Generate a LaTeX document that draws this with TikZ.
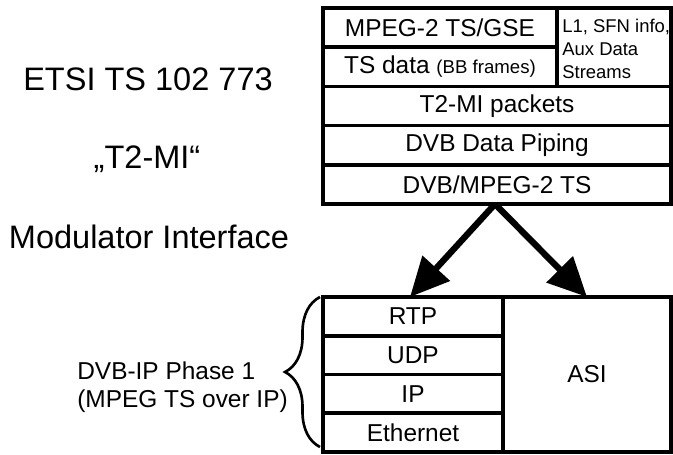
\documentclass[tikz,border=0pt]{standalone}
\usepackage{fontspec}
\setmainfont{Liberation Sans}
\usetikzlibrary{positioning,arrows.meta,decorations.pathreplacing}

\tikzset{
  cell/.style={draw, line width=2.1pt, inner sep=0pt, outer sep=0pt,
    minimum height=0.784cm, font=\fontsize{13.9}{16}\selectfont},
  fatarrow/.style={line width=3.6pt, -{Triangle[length=0.78cm,width=0.72cm]}},
  sidetext/.style={anchor=base, font=\fontsize{18.5}{22}\selectfont},
}

\begin{document}
\begin{tikzpicture}
\useasboundingbox (0,0) rectangle (13.46,9.08);
% Pilha T2-MI
\node[cell, minimum width=4.68cm, anchor=north west] (mpeg) at (6.46,8.92) {MPEG-2 TS/GSE};
\node[cell, minimum width=4.68cm, below=0pt of mpeg] (tsdata) {TS data {\fontsize{10.6}{12}\selectfont(BB frames)}};
\node[cell, minimum width=2.28cm, minimum height=1.568cm, anchor=north west] (l1) at (mpeg.north east) {};
\node[anchor=west, align=left, inner sep=0pt, font=\fontsize{10.5}{13}\selectfont] (l1text) at ([xshift=0.1cm,yshift=-0.04cm]l1.west) {L1, SFN info,\\Aux Data\\Streams};
\node[cell, minimum width=6.96cm, anchor=north west] (t2mi) at (tsdata.south west) {T2-MI packets};
\node[cell, minimum width=6.96cm, below=0pt of t2mi] (piping) {DVB Data Piping};
\node[cell, minimum width=6.96cm, below=0pt of piping] (dvbts) {DVB/MPEG-2 TS};
% Pilha IP / ASI
\node[cell, minimum width=3.6cm, minimum height=0.775cm, anchor=north west] (rtp) at (6.46,3.14) {RTP};
\node[cell, minimum width=3.6cm, minimum height=0.775cm, below=0pt of rtp] (udp) {UDP};
\node[cell, minimum width=3.6cm, minimum height=0.775cm, below=0pt of udp] (ip) {IP};
\node[cell, minimum width=3.6cm, minimum height=0.775cm, below=0pt of ip] (eth) {Ethernet};
\node[cell, minimum width=3.36cm, minimum height=3.1cm, anchor=north west] (asi) at (rtp.north east) {ASI};
% Setas
\draw[fatarrow] ([xshift=-0.04cm]dvbts.south) -- ([xshift=-0.06cm]rtp.north);
\draw[fatarrow] ([xshift=-0.04cm]dvbts.south) -- (asi.north);
% Textos
\node[sidetext] (etsi) at (2.96,7.27) {ETSI TS 102 773};
\node[sidetext] (t2miname) at (2.94,5.71) {„T2-MI“};
\node[sidetext] (modint) at (2.98,4.12) {Modulator Interface};
\node[anchor=west, align=left, inner sep=0pt, font=\fontsize{13.9}{15.9}\selectfont] (dvbip) at (1.54,1.33) {DVB-IP Phase 1\\(MPEG TS over IP)};
% Chave
\draw[line width=1.5pt, decorate, decoration={brace, amplitude=0.7cm}]
  ([xshift=-0.06cm,yshift=0.1cm]eth.south west) -- ([xshift=-0.06cm]rtp.north west);
\end{tikzpicture}
\end{document}
